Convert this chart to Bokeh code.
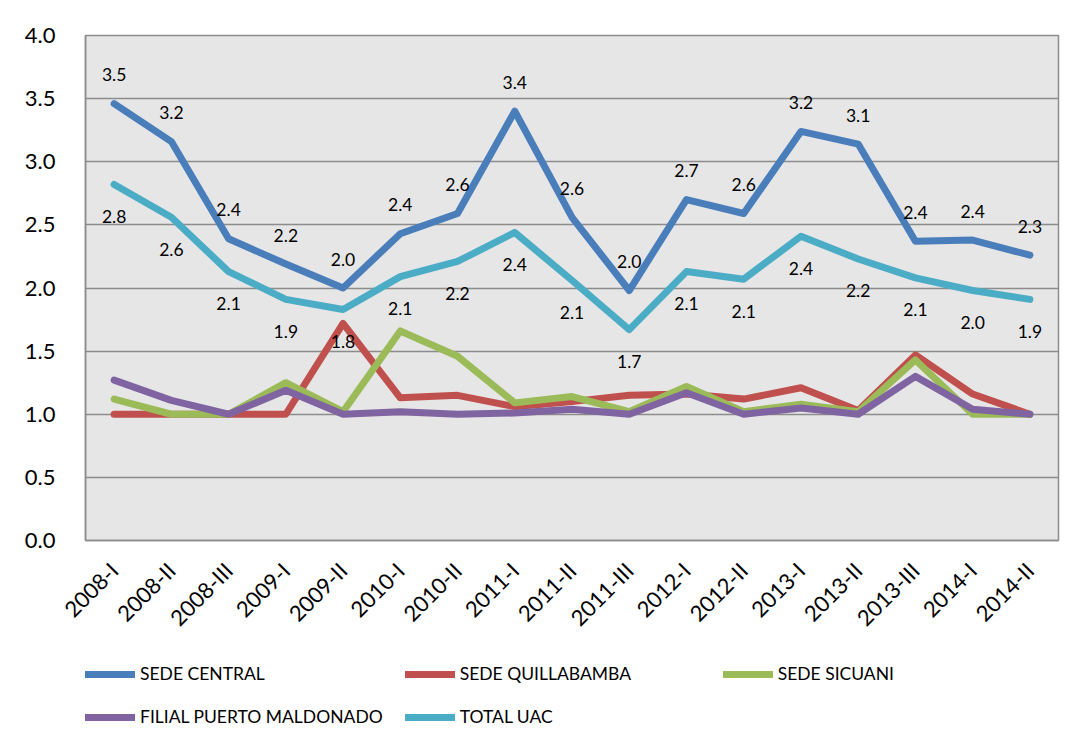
from math import pi
from bokeh.plotting import figure
from bokeh.layouts import column
from bokeh.models import Legend, LegendItem, ColumnDataSource, FixedTicker, NumeralTickFormatter
from bokeh.core.properties import value
from bokeh.embed import file_html
from bokeh.resources import INLINE

periods = ["2008-I", "2008-II", "2008-III", "2009-I", "2009-II", "2010-I", "2010-II",
           "2011-I", "2011-II", "2011-III", "2012-I", "2012-II", "2013-I", "2013-II",
           "2013-III", "2014-I", "2014-II"]
sede_central = [3.46, 3.16, 2.39, 2.19, 2.0, 2.43, 2.59, 3.4, 2.56, 1.98, 2.7, 2.59, 3.24, 3.14, 2.37, 2.38, 2.26]
sede_quillabamba = [1.0, 1.0, 1.0, 1.0, 1.72, 1.13, 1.15, 1.06, 1.1, 1.15, 1.16, 1.12, 1.21, 1.03, 1.47, 1.16, 1.0]
sede_sicuani = [1.12, 1.0, 1.0, 1.25, 1.02, 1.66, 1.46, 1.09, 1.14, 1.02, 1.22, 1.02, 1.08, 1.02, 1.43, 1.0, 1.0]
filial_pm = [1.27, 1.11, 1.0, 1.19, 1.0, 1.02, 1.0, 1.01, 1.04, 1.0, 1.17, 1.0, 1.05, 1.0, 1.3, 1.04, 1.0]
total_uac = [2.82, 2.56, 2.13, 1.91, 1.83, 2.09, 2.21, 2.44, 2.06, 1.67, 2.13, 2.07, 2.41, 2.23, 2.08, 1.98, 1.91]

names = ["SEDE CENTRAL", "SEDE QUILLABAMBA", "SEDE SICUANI", "FILIAL PUERTO MALDONADO", "TOTAL UAC"]
colors = ["#4A7EBB", "#C0504D", "#9BBB59", "#8064A2", "#4BACC6"]
series = [sede_central, sede_quillabamba, sede_sicuani, filial_pm, total_uac]

FONT = "Lato"
W = 1075

p = figure(x_range=periods, y_range=(0, 4), width=W, height=650,
           output_backend="svg", toolbar_location=None,
           min_border_left=85, min_border_top=35, min_border_right=17, min_border_bottom=110)
p.background_fill_color = "#E6E6E6"
p.border_fill_color = "white"
p.outline_line_color = "#8C8C8C"
p.outline_line_width = 1.5

p.xgrid.grid_line_color = None
p.ygrid.grid_line_color = "#8C8C8C"
p.ygrid.grid_line_width = 1.5

p.yaxis.ticker = FixedTicker(ticks=[0, 0.5, 1, 1.5, 2, 2.5, 3, 3.5, 4])
p.yaxis.formatter = NumeralTickFormatter(format="0.0")
p.yaxis.major_label_text_font = FONT
p.yaxis.major_label_text_font_size = "22px"
p.yaxis.major_label_text_color = "black"
p.yaxis.major_tick_line_color = None
p.yaxis.minor_tick_line_color = None
p.yaxis.axis_line_color = "#8C8C8C"
p.yaxis.axis_line_width = 1.5
p.yaxis.major_label_standoff = 24

p.xaxis.major_label_orientation = pi / 4
p.xaxis.major_label_text_font = FONT
p.xaxis.major_label_text_font_size = "22px"
p.xaxis.major_label_text_color = "black"
p.xaxis.major_tick_line_color = None
p.xaxis.axis_line_color = "#8C8C8C"
p.xaxis.axis_line_width = 1.5
p.xaxis.major_label_standoff = 20

for name, col, vals in zip(names, colors, series):
    src = ColumnDataSource(dict(x=periods, y=vals))
    p.line("x", "y", source=src, line_color=col, line_width=7, line_join="round", line_cap="round")

lab_c = ColumnDataSource(dict(x=periods, y=sede_central, t=[f"{v:.1f}" for v in sede_central]))
p.text("x", "y", text="t", source=lab_c, text_align="center", text_baseline="middle",
       y_offset=-29, text_font=value(FONT), text_font_size="17.5px", text_color="black")
lab_t = ColumnDataSource(dict(x=periods, y=total_uac, t=[f"{v:.1f}" for v in total_uac]))
p.text("x", "y", text="t", source=lab_t, text_align="center", text_baseline="middle",
       y_offset=32, text_font=value(FONT), text_font_size="17.5px", text_color="black")

# legend strip below the chart
lg = figure(width=W, height=89, x_range=(0, 1), y_range=(0, 1),
            output_backend="svg", toolbar_location=None,
            x_axis_type=None, y_axis_type=None, min_border=0)
lg.outline_line_color = None
lg.background_fill_color = "white"
lg.border_fill_color = "white"
lg.grid.grid_line_color = None
nan = float("nan")
items = []
for name, col in zip(names, colors):
    r = lg.line(x=[nan, nan], y=[nan, nan], line_color=col, line_width=7, line_cap="round")
    items.append(LegendItem(label=name, renderers=[r]))
legend = Legend(items=items, orientation="horizontal", ncols=3,
                glyph_width=50, glyph_height=20, label_height=20, label_width=241,
                label_standoff=5, spacing=22, padding=0, margin=0,
                label_text_font=FONT, label_text_font_size="17.5px", label_text_color="black",
                border_line_color=None, background_fill_alpha=0, location=(0, 12))
lg.add_layout(legend, "center")

open("out.html", "w").write(file_html(column(p, lg, spacing=0), INLINE))
